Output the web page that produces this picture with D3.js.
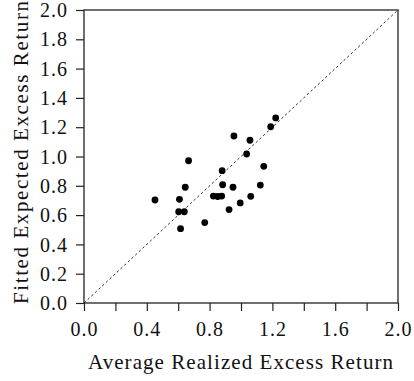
<!DOCTYPE html>
<html>
<head>
<meta charset="utf-8">
<script src="https://cdn.jsdelivr.net/npm/d3@7"></script>
<style>
  html, body { margin: 0; padding: 0; background: #fff; }
  svg text { font-family: 'Liberation Serif', 'DejaVu Serif', serif; fill: #111; }
</style>
</head>
<body>
<svg id="chart" width="414" height="381"></svg>
<script>
// Average realized vs. fitted expected excess returns (25 portfolios)
const realized = [1.221, 1.189, 0.955, 1.057, 1.036, 0.666, 0.880, 1.145, 0.645, 0.883,
                  0.949, 1.123, 0.824, 0.852, 0.877, 1.062, 0.452, 0.608, 0.995, 0.924,
                  0.603, 0.639, 0.769, 0.615];
const fitted   = [1.263, 1.203, 1.140, 1.111, 1.017, 0.971, 0.903, 0.933, 0.790, 0.807,
                  0.790, 0.805, 0.730, 0.727, 0.730, 0.728, 0.703, 0.708, 0.683, 0.638,
                  0.623, 0.623, 0.549, 0.507];
const xTicks = [0, 0.2, 0.4, 0.6, 0.8, 1.0, 1.2, 1.4, 1.6, 1.8, 2.0];
const xTickLabels = [0, 0.4, 0.8, 1.2, 1.6, 2.0];
const yTicks = [0, 0.2, 0.4, 0.6, 0.8, 1.0, 1.2, 1.4, 1.6, 1.8, 2.0];
const xTitle = "Average Realized Excess Return";
const yTitle = "Fitted Expected Excess Return";

const svg = d3.select("#chart");
const plotL = 84, plotR = 398, plotT = 10, plotB = 303;
const serif = "'Liberation Serif', 'DejaVu Serif', serif";

const x = d3.scaleLinear().domain([0, 2]).range([plotL, plotR]);
const y = d3.scaleLinear().domain([0, 2]).range([plotB, plotT]);

// x axis: ticks every 0.2, labels every 0.4
const xAxis = d3.axisBottom(x)
  .tickValues(xTicks)
  .tickSize(8)
  .tickFormat(d => xTickLabels.some(v => Math.abs(v - d) < 1e-9) ? d3.format(".1f")(d) : "");
const gx = svg.append("g").attr("transform", `translate(0,${plotB})`).call(xAxis)
  .attr("font-family", serif).attr("font-size", 20);
gx.select(".domain").remove();
gx.selectAll(".tick line").attr("stroke", "#222").attr("stroke-width", 1.2);
gx.selectAll(".tick text").attr("y", 19).attr("dy", "0.71em")
  .attr("letter-spacing", 1).attr("fill", "#111");

// y axis
const yAxis = d3.axisLeft(y)
  .tickValues(yTicks)
  .tickSize(8)
  .tickFormat(d3.format(".1f"));
const gy = svg.append("g").attr("transform", `translate(${plotL},0)`).call(yAxis)
  .attr("font-family", serif).attr("font-size", 20);
gy.select(".domain").remove();
gy.selectAll(".tick line").attr("stroke", "#222").attr("stroke-width", 1.2);
gy.selectAll(".tick text").attr("x", -16).attr("dy", "0.33em")
  .attr("letter-spacing", 1).attr("fill", "#111");

// 45-degree reference line
svg.append("line")
  .attr("x1", x(0)).attr("y1", y(0))
  .attr("x2", x(2)).attr("y2", y(2))
  .attr("stroke", "#333").attr("stroke-width", 1)
  .attr("stroke-dasharray", "2.5,2.5");

// frame
svg.append("rect")
  .attr("x", plotL).attr("y", plotT)
  .attr("width", plotR - plotL).attr("height", plotB - plotT)
  .attr("fill", "none").attr("stroke", "#222").attr("stroke-width", 1.3);

// points
svg.append("g").selectAll("circle")
  .data(d3.zip(realized, fitted))
  .join("circle")
  .attr("cx", d => x(d[0]))
  .attr("cy", d => y(d[1]))
  .attr("r", 3.4)
  .attr("fill", "#000");

// titles
svg.append("text")
  .attr("x", 240.5).attr("y", 369)
  .attr("text-anchor", "middle")
  .attr("textLength", 305).attr("lengthAdjust", "spacing")
  .style("font-size", "21px")
  .text(xTitle);

svg.append("text")
  .attr("transform", `translate(28,152.5) rotate(-90)`)
  .attr("text-anchor", "middle")
  .attr("textLength", 303).attr("lengthAdjust", "spacing")
  .style("font-size", "21px")
  .text(yTitle);
</script>
</body>
</html>
